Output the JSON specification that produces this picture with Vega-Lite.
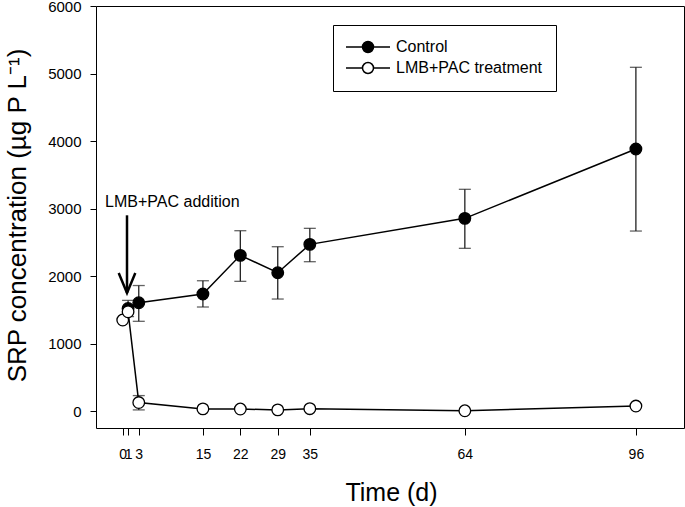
{
  "$schema": "https://vega.github.io/schema/vega-lite/v6.json",
  "width": 588,
  "height": 422,
  "autosize": {"type": "none"},
  "padding": {"left": 96, "top": 6, "right": 1, "bottom": 79},
  "background": "white",
  "config": {
    "view": {"stroke": "black", "strokeWidth": 1},
    "font": "Liberation Sans",
    "axis": {"grid": false, "domain": false, "tickColor": "black", "tickWidth": 1, "labelColor": "black", "titleColor": "black", "titleFontWeight": "normal", "labelFont": "Liberation Sans", "titleFont": "Liberation Sans"}
  },
  "datasets": {
    "srp": [
      {"day": 1, "series": "Control", "srp": 1520, "lo": 1400, "hi": 1640},
      {"day": 3, "series": "Control", "srp": 1605, "lo": 1330, "hi": 1860},
      {"day": 15, "series": "Control", "srp": 1734, "lo": 1542, "hi": 1931},
      {"day": 22, "series": "Control", "srp": 2307, "lo": 1922, "hi": 2672},
      {"day": 29, "series": "Control", "srp": 2050, "lo": 1660, "hi": 2435},
      {"day": 35, "series": "Control", "srp": 2470, "lo": 2213, "hi": 2707},
      {"day": 64, "series": "Control", "srp": 2855, "lo": 2411, "hi": 3285},
      {"day": 96, "series": "Control", "srp": 3882, "lo": 2667, "hi": 5092},
      {"day": 0, "series": "LMB+PAC treatment", "srp": 1349},
      {"day": 1, "series": "LMB+PAC treatment", "srp": 1472},
      {"day": 3, "series": "LMB+PAC treatment", "srp": 127, "lo": 18, "hi": 230},
      {"day": 15, "series": "LMB+PAC treatment", "srp": 33},
      {"day": 22, "series": "LMB+PAC treatment", "srp": 31},
      {"day": 29, "series": "LMB+PAC treatment", "srp": 18},
      {"day": 35, "series": "LMB+PAC treatment", "srp": 36},
      {"day": 64, "series": "LMB+PAC treatment", "srp": 5},
      {"day": 96, "series": "LMB+PAC treatment", "srp": 75}
    ],
    "arrow": [{"day": 0.8, "top": 2900, "tip": 1750}],
    "note": [{"day": -3.3, "y": 3027, "label": "LMB+PAC addition"}]
  },
  "layer": [
    {
      "data": {"name": "srp"},
      "transform": [{"filter": "isValid(datum.hi)"}],
      "mark": {"type": "rule", "stroke": "#222", "strokeWidth": 1.3},
      "encoding": {
        "x": {"field": "day", "type": "quantitative", "scale": {"domain": [-5, 105], "nice": false, "zero": false},
          "axis": {"values": [0, 1, 3, 15, 22, 29, 35, 64, 96], "format": "d", "title": "Time (d)", "titleFontSize": 25, "titleX": 295, "titleY": 72, "titleBaseline": "alphabetic", "titleAlign": "center", "tickSize": 7, "labelFontSize": 14, "labelPadding": 12, "labelOverlap": false, "labelFlush": false, "labelBound": false}},
        "y": {"field": "lo", "type": "quantitative", "scale": {"domain": [-250, 6000], "nice": false, "zero": false},
          "axis": {"values": [0, 1000, 2000, 3000, 4000, 5000, 6000], "format": "d", "title": "SRP concentration (µg P L⁻¹)", "titleFontSize": 26, "titleX": -71, "titleY": 209, "titleAngle": -90, "titleBaseline": "alphabetic", "titleAlign": "center", "tickSize": 6, "labelFontSize": 15, "labelPadding": 9, "labelOverlap": false, "labelFlush": false, "labelBound": false}},
        "y2": {"field": "hi"}
      }
    },
    {
      "data": {"name": "srp"},
      "transform": [{"filter": "isValid(datum.hi)"}],
      "mark": {"type": "tick", "orient": "horizontal", "size": 12, "thickness": 1.3, "color": "#222"},
      "encoding": {
        "x": {"field": "day", "type": "quantitative", "scale": {"domain": [-5, 105], "nice": false, "zero": false}},
        "y": {"field": "lo", "type": "quantitative", "scale": {"domain": [-250, 6000], "nice": false, "zero": false}}
      }
    },
    {
      "data": {"name": "srp"},
      "transform": [{"filter": "isValid(datum.hi)"}],
      "mark": {"type": "tick", "orient": "horizontal", "size": 12, "thickness": 1.3, "color": "#222"},
      "encoding": {
        "x": {"field": "day", "type": "quantitative", "scale": {"domain": [-5, 105], "nice": false, "zero": false}},
        "y": {"field": "hi", "type": "quantitative", "scale": {"domain": [-250, 6000], "nice": false, "zero": false}}
      }
    },
    {
      "data": {"name": "srp"},
      "mark": {"type": "line", "color": "black", "strokeWidth": 1.5},
      "encoding": {
        "x": {"field": "day", "type": "quantitative", "scale": {"domain": [-5, 105], "nice": false, "zero": false}},
        "y": {"field": "srp", "type": "quantitative", "scale": {"domain": [-250, 6000], "nice": false, "zero": false}},
        "detail": {"field": "series", "type": "nominal"}
      }
    },
    {
      "data": {"name": "srp"},
      "mark": {"type": "point", "shape": "circle", "filled": true, "size": 135, "stroke": "black", "strokeWidth": 1.3, "opacity": 1},
      "encoding": {
        "x": {"field": "day", "type": "quantitative", "scale": {"domain": [-5, 105], "nice": false, "zero": false}},
        "y": {"field": "srp", "type": "quantitative", "scale": {"domain": [-250, 6000], "nice": false, "zero": false}},
        "fill": {"field": "series", "type": "nominal", "scale": {"domain": ["Control", "LMB+PAC treatment"], "range": ["black", "white"]},
          "legend": {"orient": "none", "legendX": 237, "legendY": 19, "title": null, "strokeColor": "black", "padding": 14,
            "symbolType": "M-4.4,0L-1.1,0M1.1,0L4.4,0M-1.1,0A1.1,1.1,0,1,0,1.1,0A1.1,1.1,0,1,0,-1.1,0Z",
            "symbolSize": 100, "symbolStrokeColor": "black", "symbolStrokeWidth": 1.5, "symbolOffset": 13, "labelOffset": 20,
            "labelFontSize": 16, "labelFont": "Liberation Sans", "labelColor": "black", "labelLimit": 300, "rowPadding": 3}}
      }
    },
    {
      "data": {"name": "arrow"},
      "mark": {"type": "rule", "color": "black", "strokeWidth": 2.5},
      "encoding": {
        "x": {"field": "day", "type": "quantitative", "scale": {"domain": [-5, 105], "nice": false, "zero": false}},
        "y": {"field": "top", "type": "quantitative", "scale": {"domain": [-250, 6000], "nice": false, "zero": false}},
        "y2": {"field": "tip"}
      }
    },
    {
      "data": {"name": "arrow"},
      "mark": {"type": "point", "shape": "M-1.66,-4.0L0,0L1.66,-4.0", "filled": false, "size": 100, "stroke": "black", "strokeWidth": 2.5, "opacity": 1},
      "encoding": {
        "x": {"field": "day", "type": "quantitative", "scale": {"domain": [-5, 105], "nice": false, "zero": false}},
        "y": {"field": "tip", "type": "quantitative", "scale": {"domain": [-250, 6000], "nice": false, "zero": false}}
      }
    },
    {
      "data": {"name": "note"},
      "mark": {"type": "text", "align": "left", "baseline": "alphabetic", "fontSize": 16, "font": "Liberation Sans", "color": "black"},
      "encoding": {
        "x": {"field": "day", "type": "quantitative", "scale": {"domain": [-5, 105], "nice": false, "zero": false}},
        "y": {"field": "y", "type": "quantitative", "scale": {"domain": [-250, 6000], "nice": false, "zero": false}},
        "text": {"field": "label"}
      }
    }
  ]
}
